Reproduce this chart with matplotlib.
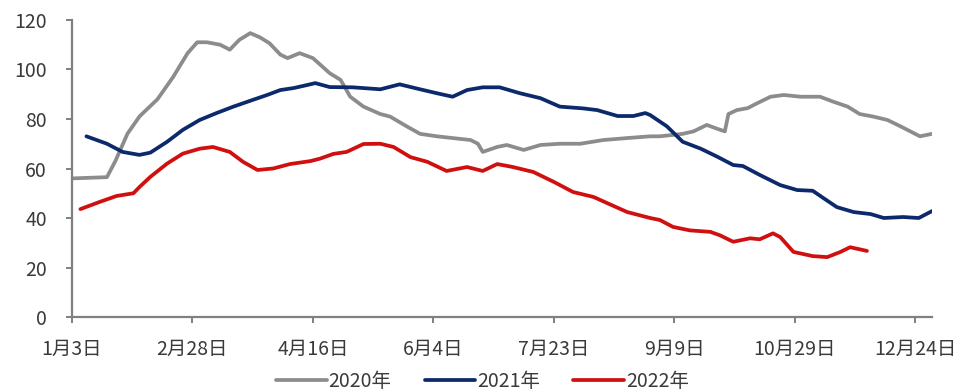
import matplotlib
matplotlib.use("Agg")
import matplotlib.pyplot as plt

plt.rcParams['font.family'] = ['Noto Sans CJK SC', 'DejaVu Sans']

# Category positions (one tick label every 10 positions)
tick_pos = [0, 10, 20, 30, 40, 50, 60, 70]
tick_labels = ["1月3日", "2月28日", "4月16日", "6月4日", "7月23日", "9月9日", "10月29日", "12月24日"]

x_2020 = [0.0, 2.9, 3.6, 4.6, 5.6, 7.1, 8.4, 9.6, 10.4, 11.2, 12.3, 13.1, 13.9, 14.8, 15.6,
          16.4, 17.3, 17.9, 18.9, 20.0, 20.6, 21.4, 22.3, 23.1, 24.2, 25.6, 26.4, 27.8, 28.9,
          30.3, 31.6, 33.1, 33.7, 34.1, 35.3, 36.1, 37.5, 38.9, 40.5, 42.2, 44.1, 46.1, 48.0,
          48.8, 50.7, 51.6, 52.7, 53.6, 54.2, 54.5, 55.2, 56.1, 56.9, 58.0, 59.1, 60.5, 62.1,
          63.2, 64.4, 65.4, 66.5, 67.7, 68.8, 69.6, 70.4, 71.4]
y_2020 = [56, 56.5, 63, 74, 81, 88, 97, 106.6, 111, 111, 110, 108, 112, 114.7, 113,
          110.6, 106, 104.6, 106.6, 104.6, 102, 98.5, 95.8, 89, 85, 82, 81, 77, 74,
          73, 72.3, 71.5, 70, 66.7, 68.7, 69.5, 67.5, 69.5, 70, 70, 71.5, 72.3, 73,
          73, 74, 75, 77.6, 76, 75, 82, 83.6, 84.4, 86.4, 89, 89.7, 89, 89,
          87, 85, 82, 81, 79.6, 77, 75, 73, 74]

x_2021 = [1.2, 2.9, 4.2, 5.6, 6.5, 7.9, 9.2, 10.6, 12.0, 13.4, 15.0, 16.2, 17.3, 18.4, 19.5,
          20.2, 21.4, 23.3, 25.6, 27.2, 28.9, 30.3, 31.6, 32.8, 34.1, 35.5, 37.2, 38.9, 40.5,
          42.4, 43.6, 45.3, 46.6, 47.6, 48.0, 49.4, 50.7, 52.2, 53.6, 54.9, 55.7, 57.1, 58.8,
          60.2, 61.5, 62.4, 63.5, 64.9, 66.3, 67.4, 69.0, 70.3, 71.4]
y_2021 = [73, 70, 66.7, 65.5, 66.4, 70.8, 75.6, 79.6, 82.4, 85, 87.7, 89.7, 91.7, 92.5, 93.7,
          94.5, 92.9, 92.8, 92, 94, 92, 90.4, 89, 91.7, 92.8, 92.8, 90.4, 88.4, 85,
          84.3, 83.6, 81.2, 81.2, 82.4, 81.6, 77, 70.8, 68, 64.7, 61.4, 61, 57.4, 53.3,
          51.3, 51, 48, 44.4, 42.4, 41.6, 40, 40.4, 40, 42.8]

x_2022 = [0.7, 2.3, 3.7, 5.1, 5.6, 6.5, 7.9, 9.2, 10.6, 11.7, 13.1, 14.2, 15.4, 16.7, 18.1,
          19.8, 20.6, 21.7, 22.8, 24.2, 25.6, 26.7, 28.1, 29.5, 31.1, 32.8, 34.1, 35.3, 36.6,
          38.3, 40.0, 41.6, 43.3, 44.9, 46.1, 48.0, 48.8, 49.9, 51.3, 53.0, 53.8, 54.9, 56.3,
          57.1, 58.2, 58.8, 59.9, 61.5, 62.7, 63.8, 64.6, 66.0]
y_2022 = [43.6, 46.5, 48.9, 50, 52.5, 56.6, 62, 66, 68, 68.7, 66.7, 62.7, 59.4, 60, 61.8,
          63, 64, 65.9, 66.7, 69.9, 70, 68.7, 64.6, 62.7, 59, 60.6, 59, 61.8, 60.6,
          58.6, 54.6, 50.5, 48.5, 45, 42.4, 40, 39.2, 36.4, 35, 34.4, 33, 30.4, 31.8,
          31.4, 33.8, 32.3, 26.3, 24.6, 24.2, 26.3, 28.2, 26.7]

series = [
    ("2020年", x_2020, y_2020, "#8c8c8c"),
    ("2021年", x_2021, y_2021, "#0c2a6b"),
    ("2022年", x_2022, y_2022, "#d01010"),
]

fig = plt.figure(figsize=(9.65, 3.92), dpi=100)
ax = fig.add_axes([0.0746, 0.1913, 0.8912, 0.7577])

for name, xs, ys, color in series:
    ax.plot(xs, ys, color=color, lw=2.7, label=name, solid_capstyle='round',
            solid_joinstyle='round')

ax.set_xlim(0, 71.4)
ax.set_ylim(0, 120)
ax.set_yticks(range(0, 121, 20))
ax.set_xticks(tick_pos)
ax.set_xticklabels(tick_labels)

text_color = "#3a3a3a"
fs = 14
for side in ("top", "right"):
    ax.spines[side].set_visible(False)
for side in ("left", "bottom"):
    ax.spines[side].set_color("#808080")
    ax.spines[side].set_linewidth(1.6)
ax.tick_params(axis='both', colors="#808080", width=1.4, length=4, labelsize=fs,
               labelcolor=text_color)
ax.tick_params(axis='x', pad=12)
ax.tick_params(axis='y', pad=14)

ax.legend(loc='lower center', bbox_to_anchor=(0.5, -0.02), bbox_transform=fig.transFigure,
          ncol=3, frameon=False, fontsize=fs, handlelength=2.6, handletextpad=0.1,
          columnspacing=1.7, labelcolor=text_color, borderaxespad=0)

fig.savefig("out.png", dpi=100)
